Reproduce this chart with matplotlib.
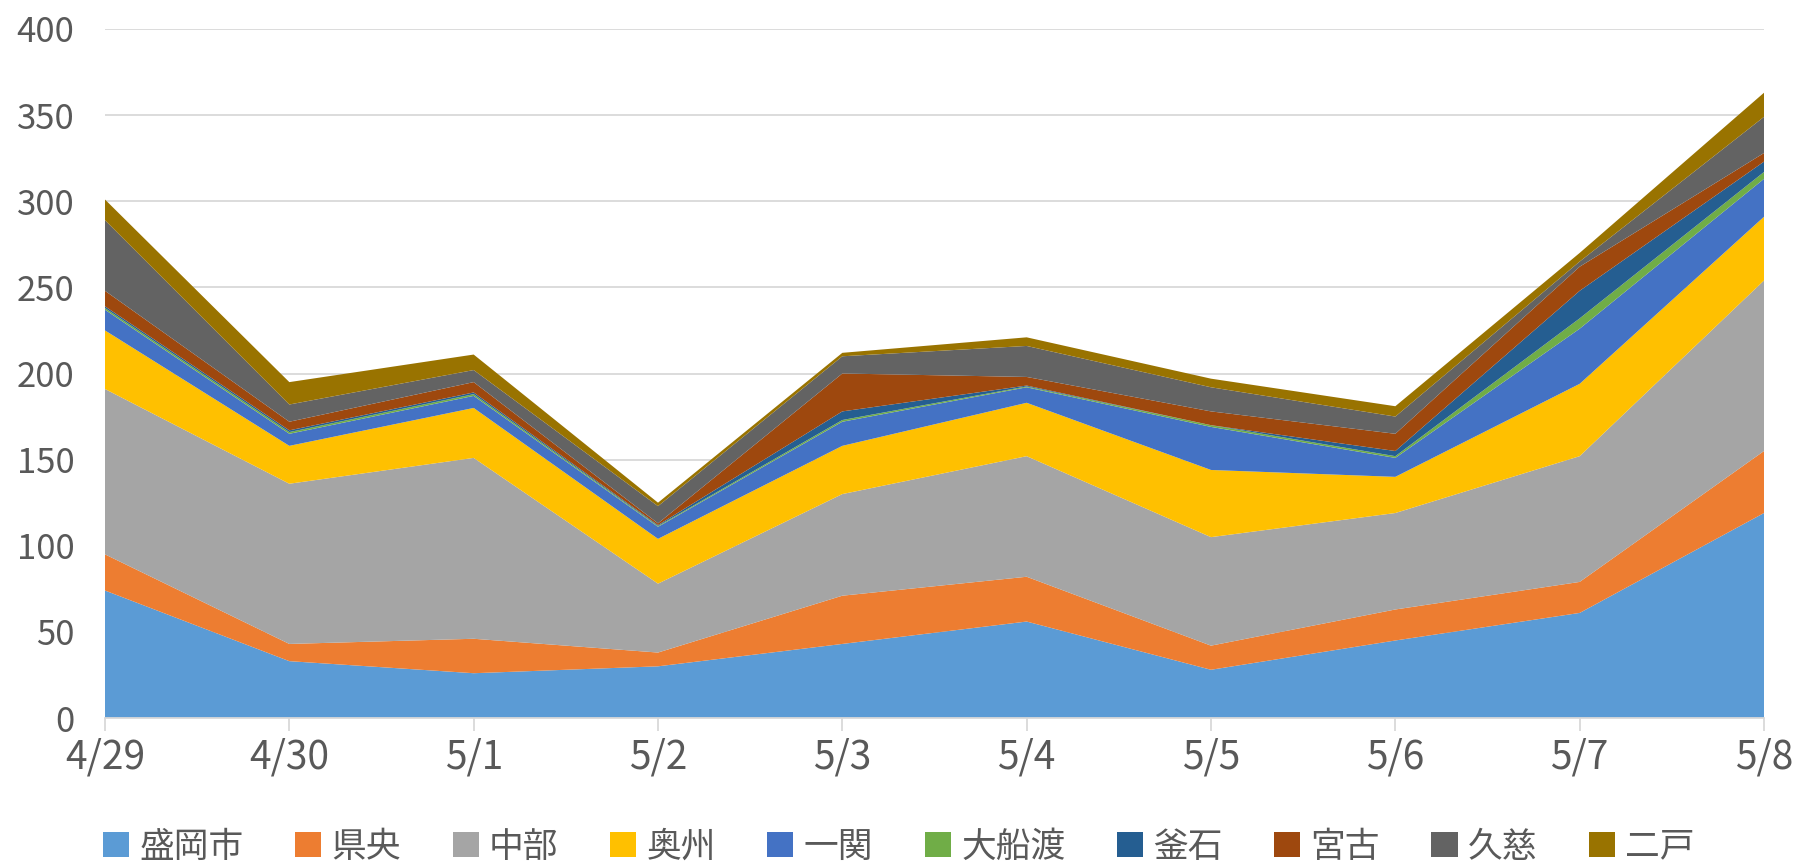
import matplotlib
matplotlib.use("Agg")
import matplotlib.pyplot as plt
import numpy as np

plt.rcParams['font.family'] = ['Noto Sans CJK JP', 'DejaVu Sans']

dates = ["4/29", "4/30", "5/1", "5/2", "5/3", "5/4", "5/5", "5/6", "5/7", "5/8"]

morioka  = [74, 33, 26, 30, 43, 56, 28, 45, 61, 119]
kenou    = [21, 10, 20, 8, 28, 26, 14, 18, 18, 36]
chubu    = [96, 93, 105, 40, 59, 70, 63, 56, 73, 99]
oshu     = [34, 22, 29, 26, 28, 31, 39, 21, 42, 37]
ichinoseki = [12, 7, 7, 7, 14, 9, 25, 11, 32, 22]
ofunato  = [1, 1, 1, 0.5, 1, 0.5, 1, 1, 6, 4]
kamaishi = [1, 1, 1, 0.5, 5, 0.5, 0, 3, 16, 6]
miyako   = [9, 5, 6, 1, 22, 5, 8, 10, 14, 5]
kuji     = [41, 10, 7, 10, 10, 18, 14, 10, 3, 21]
ninohe   = [12, 13, 9, 2, 2, 5, 5, 6, 5, 14]

series_names = ["盛岡市", "県央", "中部", "奥州", "一関", "大船渡", "釜石", "宮古", "久慈", "二戸"]
series_vals = [morioka, kenou, chubu, oshu, ichinoseki, ofunato, kamaishi, miyako, kuji, ninohe]
colors = ["#5B9BD5", "#ED7D31", "#A5A5A5", "#FFC000", "#4472C4",
          "#70AD47", "#255E91", "#9E480E", "#636363", "#997300"]

fig = plt.figure(figsize=(17.98, 8.64), dpi=100)
ax = fig.add_axes([105/1798, (864-718)/864, (1764-105)/1798, (718-29)/864])

x = np.arange(len(dates))
ax.stackplot(x, *series_vals, labels=series_names, colors=colors, linewidth=0)

ax.set_xlim(0, len(dates)-1)
ax.set_ylim(0, 400)
ax.set_yticks(np.arange(0, 401, 50))
ax.set_xticks(x)
ax.set_xticklabels(dates)
ax.yaxis.grid(True, color="#D9D9D9", linewidth=1.3)
ax.set_axisbelow(True)
for s in ["top", "right", "left"]:
    ax.spines[s].set_visible(False)
ax.spines["bottom"].set_color("#D9D9D9")
ax.spines["bottom"].set_linewidth(1.3)
ax.tick_params(axis="y", length=0, pad=22, labelsize=25, labelcolor="#595959")
ax.tick_params(axis="x", length=9, width=1.3, color="#D9D9D9", pad=5,
               labelsize=28, labelcolor="#595959")

handles, labels = ax.get_legend_handles_labels()
leg = fig.legend(handles, labels, loc="center", bbox_to_anchor=(0.5, 1-847/864),
                 ncol=10, frameon=False, fontsize=25, handlelength=0.75,
                 handleheight=0.75, handletextpad=0.3, columnspacing=1.48,
                 labelcolor="#595959")

fig.savefig("out.png", dpi=100)
